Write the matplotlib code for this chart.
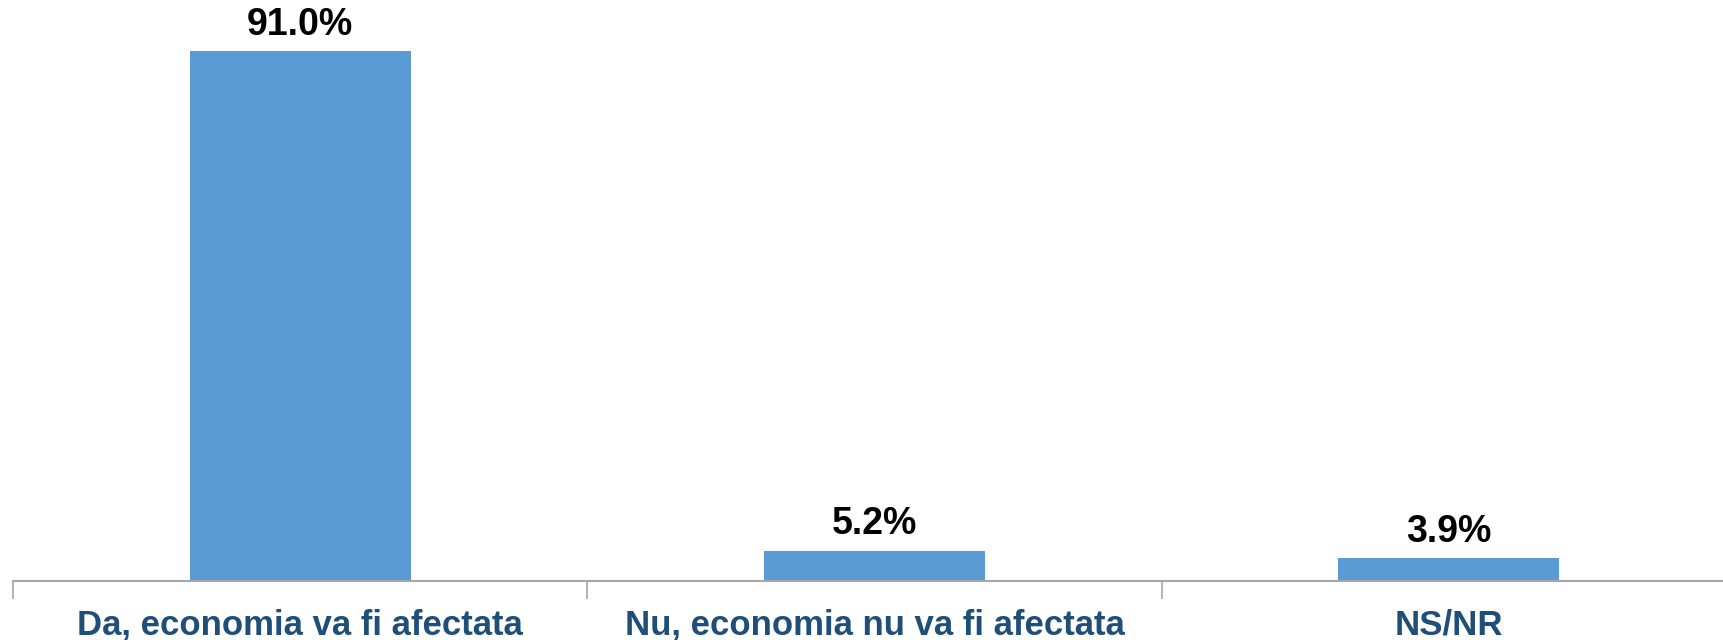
import matplotlib.pyplot as plt
from matplotlib import font_manager as fm

categories = ['Da, economia va fi afectata', 'Nu, economia nu va fi afectata', 'NS/NR']
values = [91.0, 5.2, 3.9]

bar_color = '#5B9BD5'
label_color = '#1F4E79'
axis_color = '#A6A6A6'

names = {f.name for f in fm.fontManager.ttflist}
cat_font = ['Liberation Sans Narrow', 'Liberation Sans'] if 'Liberation Sans Narrow' in names else ['Liberation Sans']

fig = plt.figure(figsize=(17.23, 6.4), dpi=100)
ax = fig.add_axes([13 / 1723, 59 / 640, 1.0, 581 / 640])

x = range(len(categories))
bars = ax.bar(x, values, width=0.385, color=bar_color, zorder=2)

for b, v in zip(bars, values):
    ax.annotate(f'{v:.1f}%', (b.get_x() + b.get_width() / 2, v),
                xytext=(0, 6), textcoords='offset points',
                ha='center', va='bottom', fontsize=27, fontweight='bold',
                color='black', family='Liberation Sans')

ax.set_xlim(-0.5, 2.5)
ax.set_ylim(0, 99.8)

ax.set_xticks(list(x))
ax.set_xticklabels(categories, fontsize=25, fontweight='bold', color=label_color, family=cat_font)
ax.tick_params(axis='x', which='major', length=0, pad=20)
ax.set_xticks([-0.5, 0.5, 1.5, 2.5], minor=True)
ax.tick_params(axis='x', which='minor', length=13, width=1.2, color=axis_color)

ax.set_yticks([])
for side in ['top', 'right', 'left']:
    ax.spines[side].set_visible(False)
ax.spines['bottom'].set_color(axis_color)
ax.spines['bottom'].set_linewidth(1.5)

fig.savefig('out.png', dpi=100)
